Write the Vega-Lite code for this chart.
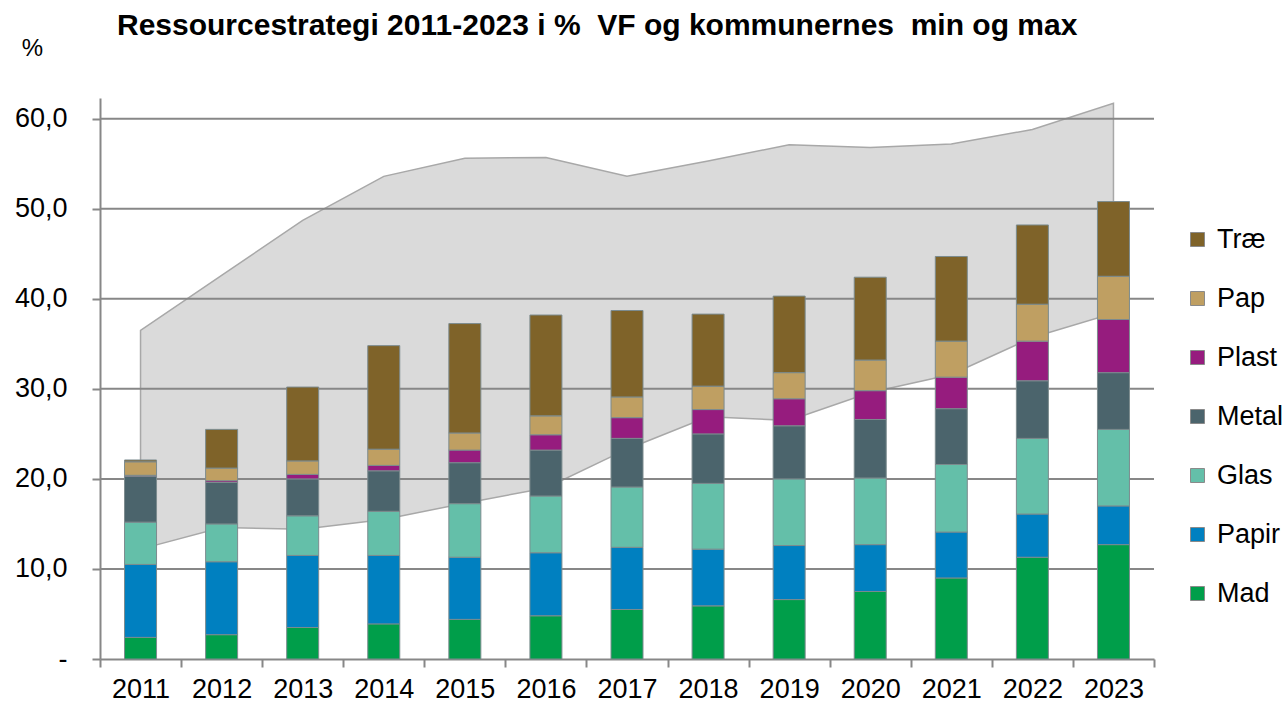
{
  "$schema": "https://vega.github.io/schema/vega-lite/v6.json",
  "autosize": "none",
  "width": 1054,
  "height": 561,
  "padding": {"left": 100, "top": 98, "right": 131, "bottom": 50},
  "background": "white",
  "config": {"view": {"stroke": null}, "font": "Liberation Sans"},
  "title": {
    "text": "Ressourcestrategi 2011-2023 i %\u00a0 VF og kommunernes\u00a0 min og max",
    "anchor": "start", "frame": "group", "dx": 17, "offset": 4, "dy": 33, "baseline": "alphabetic",
    "font": "Liberation Sans", "fontSize": 30, "fontWeight": "bold", "color": "black"
  },
  "datasets": {
    "range": [
      {"yr": "2011", "lo": 12.2, "hi": 36.5},
      {"yr": "2012", "lo": 14.6, "hi": 42.6},
      {"yr": "2013", "lo": 14.4, "hi": 48.7},
      {"yr": "2014", "lo": 15.5, "hi": 53.6},
      {"yr": "2015", "lo": 17.3, "hi": 55.6},
      {"yr": "2016", "lo": 19.0, "hi": 55.7},
      {"yr": "2017", "lo": 23.3, "hi": 53.6},
      {"yr": "2018", "lo": 26.9, "hi": 55.3},
      {"yr": "2019", "lo": 26.5, "hi": 57.1},
      {"yr": "2020", "lo": 29.6, "hi": 56.8},
      {"yr": "2021", "lo": 31.6, "hi": 57.2},
      {"yr": "2022", "lo": 35.7, "hi": 58.8},
      {"yr": "2023", "lo": 38.4, "hi": 61.7}
    ],
    "grid": [{"g": 10}, {"g": 20}, {"g": 30}, {"g": 40}, {"g": 50}, {"g": 60}],
    "bars": [
      {"yr": "2011", "t": "Mad", "k": 1, "v": 2.4}, {"yr": "2011", "t": "Papir", "k": 2, "v": 8.1}, {"yr": "2011", "t": "Glas", "k": 3, "v": 4.7}, {"yr": "2011", "t": "Metal", "k": 4, "v": 5.1}, {"yr": "2011", "t": "Plast", "k": 5, "v": 0.1}, {"yr": "2011", "t": "Pap", "k": 6, "v": 1.5}, {"yr": "2011", "t": "Træ", "k": 7, "v": 0.2},
      {"yr": "2012", "t": "Mad", "k": 1, "v": 2.7}, {"yr": "2012", "t": "Papir", "k": 2, "v": 8.1}, {"yr": "2012", "t": "Glas", "k": 3, "v": 4.2}, {"yr": "2012", "t": "Metal", "k": 4, "v": 4.6}, {"yr": "2012", "t": "Plast", "k": 5, "v": 0.2}, {"yr": "2012", "t": "Pap", "k": 6, "v": 1.4}, {"yr": "2012", "t": "Træ", "k": 7, "v": 4.3},
      {"yr": "2013", "t": "Mad", "k": 1, "v": 3.5}, {"yr": "2013", "t": "Papir", "k": 2, "v": 8.0}, {"yr": "2013", "t": "Glas", "k": 3, "v": 4.4}, {"yr": "2013", "t": "Metal", "k": 4, "v": 4.1}, {"yr": "2013", "t": "Plast", "k": 5, "v": 0.5}, {"yr": "2013", "t": "Pap", "k": 6, "v": 1.5}, {"yr": "2013", "t": "Træ", "k": 7, "v": 8.2},
      {"yr": "2014", "t": "Mad", "k": 1, "v": 3.9}, {"yr": "2014", "t": "Papir", "k": 2, "v": 7.6}, {"yr": "2014", "t": "Glas", "k": 3, "v": 4.9}, {"yr": "2014", "t": "Metal", "k": 4, "v": 4.5}, {"yr": "2014", "t": "Plast", "k": 5, "v": 0.6}, {"yr": "2014", "t": "Pap", "k": 6, "v": 1.8}, {"yr": "2014", "t": "Træ", "k": 7, "v": 11.5},
      {"yr": "2015", "t": "Mad", "k": 1, "v": 4.4}, {"yr": "2015", "t": "Papir", "k": 2, "v": 6.9}, {"yr": "2015", "t": "Glas", "k": 3, "v": 5.95}, {"yr": "2015", "t": "Metal", "k": 4, "v": 4.55}, {"yr": "2015", "t": "Plast", "k": 5, "v": 1.4}, {"yr": "2015", "t": "Pap", "k": 6, "v": 1.9}, {"yr": "2015", "t": "Træ", "k": 7, "v": 12.15},
      {"yr": "2016", "t": "Mad", "k": 1, "v": 4.8}, {"yr": "2016", "t": "Papir", "k": 2, "v": 7.0}, {"yr": "2016", "t": "Glas", "k": 3, "v": 6.3}, {"yr": "2016", "t": "Metal", "k": 4, "v": 5.1}, {"yr": "2016", "t": "Plast", "k": 5, "v": 1.7}, {"yr": "2016", "t": "Pap", "k": 6, "v": 2.1}, {"yr": "2016", "t": "Træ", "k": 7, "v": 11.2},
      {"yr": "2017", "t": "Mad", "k": 1, "v": 5.5}, {"yr": "2017", "t": "Papir", "k": 2, "v": 6.9}, {"yr": "2017", "t": "Glas", "k": 3, "v": 6.7}, {"yr": "2017", "t": "Metal", "k": 4, "v": 5.4}, {"yr": "2017", "t": "Plast", "k": 5, "v": 2.3}, {"yr": "2017", "t": "Pap", "k": 6, "v": 2.3}, {"yr": "2017", "t": "Træ", "k": 7, "v": 9.6},
      {"yr": "2018", "t": "Mad", "k": 1, "v": 5.9}, {"yr": "2018", "t": "Papir", "k": 2, "v": 6.3}, {"yr": "2018", "t": "Glas", "k": 3, "v": 7.3}, {"yr": "2018", "t": "Metal", "k": 4, "v": 5.5}, {"yr": "2018", "t": "Plast", "k": 5, "v": 2.7}, {"yr": "2018", "t": "Pap", "k": 6, "v": 2.6}, {"yr": "2018", "t": "Træ", "k": 7, "v": 8.0},
      {"yr": "2019", "t": "Mad", "k": 1, "v": 6.6}, {"yr": "2019", "t": "Papir", "k": 2, "v": 6.0}, {"yr": "2019", "t": "Glas", "k": 3, "v": 7.4}, {"yr": "2019", "t": "Metal", "k": 4, "v": 5.9}, {"yr": "2019", "t": "Plast", "k": 5, "v": 3.0}, {"yr": "2019", "t": "Pap", "k": 6, "v": 2.9}, {"yr": "2019", "t": "Træ", "k": 7, "v": 8.5},
      {"yr": "2020", "t": "Mad", "k": 1, "v": 7.5}, {"yr": "2020", "t": "Papir", "k": 2, "v": 5.2}, {"yr": "2020", "t": "Glas", "k": 3, "v": 7.4}, {"yr": "2020", "t": "Metal", "k": 4, "v": 6.5}, {"yr": "2020", "t": "Plast", "k": 5, "v": 3.2}, {"yr": "2020", "t": "Pap", "k": 6, "v": 3.4}, {"yr": "2020", "t": "Træ", "k": 7, "v": 9.2},
      {"yr": "2021", "t": "Mad", "k": 1, "v": 9.0}, {"yr": "2021", "t": "Papir", "k": 2, "v": 5.1}, {"yr": "2021", "t": "Glas", "k": 3, "v": 7.5}, {"yr": "2021", "t": "Metal", "k": 4, "v": 6.2}, {"yr": "2021", "t": "Plast", "k": 5, "v": 3.5}, {"yr": "2021", "t": "Pap", "k": 6, "v": 4.0}, {"yr": "2021", "t": "Træ", "k": 7, "v": 9.4},
      {"yr": "2022", "t": "Mad", "k": 1, "v": 11.3}, {"yr": "2022", "t": "Papir", "k": 2, "v": 4.8}, {"yr": "2022", "t": "Glas", "k": 3, "v": 8.4}, {"yr": "2022", "t": "Metal", "k": 4, "v": 6.4}, {"yr": "2022", "t": "Plast", "k": 5, "v": 4.4}, {"yr": "2022", "t": "Pap", "k": 6, "v": 4.1}, {"yr": "2022", "t": "Træ", "k": 7, "v": 8.8},
      {"yr": "2023", "t": "Mad", "k": 1, "v": 12.7}, {"yr": "2023", "t": "Papir", "k": 2, "v": 4.3}, {"yr": "2023", "t": "Glas", "k": 3, "v": 8.5}, {"yr": "2023", "t": "Metal", "k": 4, "v": 6.3}, {"yr": "2023", "t": "Plast", "k": 5, "v": 5.9}, {"yr": "2023", "t": "Pap", "k": 6, "v": 4.8}, {"yr": "2023", "t": "Træ", "k": 7, "v": 8.3}
    ]
  },
  "layer": [
    {
      "data": {"name": "range"},
      "mark": {"type": "area", "fill": "#dadada", "stroke": "#a8a8a8", "strokeWidth": 1.5},
      "encoding": {
        "x": {
          "field": "yr", "type": "ordinal", "title": null,
          "scale": {"type": "band", "paddingInner": 0, "paddingOuter": 0},
          "axis": {
            "labelAngle": 0, "labelFontSize": 27, "labelColor": "black", "labelFont": "Liberation Sans",
            "labelPadding": 9, "tickBand": "extent", "tickSize": 8, "tickWidth": 2, "tickColor": "#878787",
            "domainColor": "#878787", "domainWidth": 2, "grid": false
          }
        },
        "y": {
          "field": "lo", "type": "quantitative", "title": "%",
          "scale": {"domain": [0, 62.3], "nice": false, "zero": true},
          "axis": {
            "values": [0, 10, 20, 30, 40, 50, 60],
            "labelExpr": "datum.value == 0 ? '-' : replace(format(datum.value, '.1f'), '.', ',')",
            "labelFontSize": 27, "labelColor": "black", "labelFont": "Liberation Sans", "labelPadding": 25,
            "tickSize": 8, "tickWidth": 2, "tickColor": "#878787", "domainColor": "#878787", "domainWidth": 2,
            "grid": false,
            "titleAngle": 0, "titleX": -68, "titleY": -50, "titleAlign": "center", "titleBaseline": "middle",
            "titleFontSize": 24, "titleFontWeight": "normal", "titleFont": "Liberation Sans", "titleColor": "black"
          }
        },
        "y2": {"field": "hi"}
      }
    },
    {
      "data": {"name": "grid"},
      "mark": {"type": "rule", "color": "#878787", "strokeWidth": 2},
      "encoding": {
        "y": {"field": "g", "type": "quantitative", "title": "%"}
      }
    },
    {
      "data": {"name": "bars"},
      "mark": {"type": "bar", "size": 32, "stroke": "#7c8b8e", "strokeWidth": 1},
      "encoding": {
        "x": {"field": "yr", "type": "ordinal", "title": null},
        "y": {"field": "v", "type": "quantitative", "stack": "zero", "title": "%"},
        "order": {"field": "k", "type": "quantitative", "sort": "ascending"},
        "color": {
          "field": "t", "type": "nominal",
          "scale": {
            "domain": ["Træ", "Pap", "Plast", "Metal", "Glas", "Papir", "Mad"],
            "range": ["#7F6329", "#BF9F62", "#961C7E", "#4B646C", "#64BFA9", "#0080C0", "#009E4A"]
          },
          "legend": {
            "title": null, "orient": "none", "legendX": 1084, "legendY": 128,
            "symbolType": "square", "symbolSize": 196, "symbolStrokeColor": "#8a8a8a", "symbolStrokeWidth": 1,
            "labelFontSize": 27, "labelFont": "Liberation Sans", "labelColor": "black", "labelOffset": 6,
            "rowPadding": 31
          }
        }
      }
    }
  ]
}
